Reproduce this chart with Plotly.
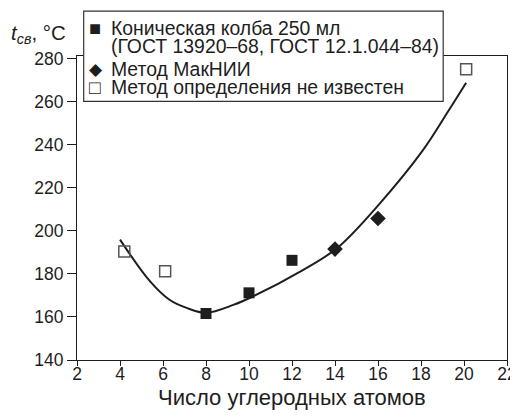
import plotly.graph_objects as go

# Data
open_x = [4.2, 6.1, 20.1]
open_y = [190.4, 181.2, 275.0]
flask_x = [8, 10, 12]
flask_y = [161.6, 171.2, 186.3]
mak_x = [14, 16]
mak_y = [191.5, 205.7]
fit_x = [4.0, 5.4, 6.3, 7.1, 8.0, 9.3, 10.2, 12.4, 14.1, 16.1, 18.1, 19.3, 20.1]
fit_y = [195.9, 176.5, 168.0, 164.2, 161.9, 165.7, 169.6, 181.2, 192.0, 212.9, 237.6, 256.1, 268.8]
x_ticks = [2, 4, 6, 8, 10, 12, 14, 16, 18, 20, 22]
y_ticks = [140, 160, 180, 200, 220, 240, 260, 280]
legend_labels = ["Коническая колба 250 мл", "(ГОСТ 13920–68, ГОСТ 12.1.044–84)",
                 "Метод МакНИИ", "Метод определения не известен"]
x_title = "Число углеродных атомов"

FONT = "Liberation Sans, Arial, sans-serif"
INK = "#1e1e1e"

# page offset of the figure (default body margin) and plot-area geometry (pixels)
OFF = 8
FW, FH = 518 - OFF, 417 - OFF
L, T, W, H = 69.3, 48, 430, 304.5
def px(x):
    return (x - OFF - L) / W
def py(y):
    return (T + H - (y - OFF)) / H

fig = go.Figure()
fig.add_trace(go.Scatter(x=fit_x, y=fit_y, mode="lines", line=dict(color=INK, width=2, shape="spline"),
                         showlegend=False, hoverinfo="skip"))
fig.add_trace(go.Scatter(x=flask_x, y=flask_y, mode="markers", showlegend=False,
                         marker=dict(symbol="square", size=11, color=INK, line=dict(width=0))))
fig.add_trace(go.Scatter(x=mak_x, y=mak_y, mode="markers", showlegend=False,
                         marker=dict(symbol="diamond", size=12, color=INK, line=dict(width=0))))
fig.add_trace(go.Scatter(x=open_x, y=open_y, mode="markers", showlegend=False,
                         marker=dict(symbol="square-open", size=11, color="#555555", line=dict(width=1.5))))

annotations = [dict(text="<i>t</i><sub><i>св</i></sub>, °C", xref="paper", yref="paper",
                    x=px(9), y=py(34), xanchor="left", yanchor="middle", showarrow=False,
                    font=dict(size=20.5, color=INK)),
               dict(text=x_title, xref="paper", yref="paper", x=px(292.5), y=py(398),
                    xanchor="center", yanchor="middle", showarrow=False,
                    font=dict(size=22, color=INK))]
line_y = [27.5, 45.8, 69.2, 87.5]
for lab, yy in zip(legend_labels, line_y):
    annotations.append(dict(text=lab, xref="paper", yref="paper", x=px(109), y=py(yy),
                            xanchor="left", yanchor="middle", showarrow=False,
                            font=dict(size=19.4, color=INK)))
for g, xx, yy, sz in [("■", 95, 27.5, 20), ("◆", 96.5, 69.2, 17), ("□", 95, 87.5, 19)]:
    annotations.append(dict(text=g, xref="paper", yref="paper", x=px(xx), y=py(yy),
                            xanchor="center", yanchor="middle", showarrow=False,
                            font=dict(size=sz, color=INK)))

fig.update_layout(
    width=FW, height=FH,
    margin=dict(l=L, r=FW - L - W, t=T, b=FH - T - H, autoexpand=False),
    paper_bgcolor="white", plot_bgcolor="white",
    font=dict(family=FONT, size=17.5, color=INK),
    showlegend=False,
    shapes=[dict(type="rect", xref="paper", yref="paper", x0=px(84), x1=px(443.5), y0=py(101.5), y1=py(11),
                 line=dict(color="#333333", width=1.2), fillcolor="white", layer="above")],
    annotations=annotations,
)
fig.update_xaxes(range=[2, 22], tickvals=x_ticks, ticks="outside", ticklen=5, tickwidth=1.2,
                 tickcolor=INK, showline=True, linecolor=INK, linewidth=1.2, mirror=True,
                 showgrid=False, zeroline=False, ticklabelstandoff=-7)
fig.update_yaxes(range=[140, 281.2], tickvals=y_ticks, ticks="outside", ticklen=9, tickwidth=1.2,
                 tickcolor=INK, showline=True, linecolor=INK, linewidth=1.2, mirror=True,
                 showgrid=False, zeroline=False)

fig.write_html("out.html")
